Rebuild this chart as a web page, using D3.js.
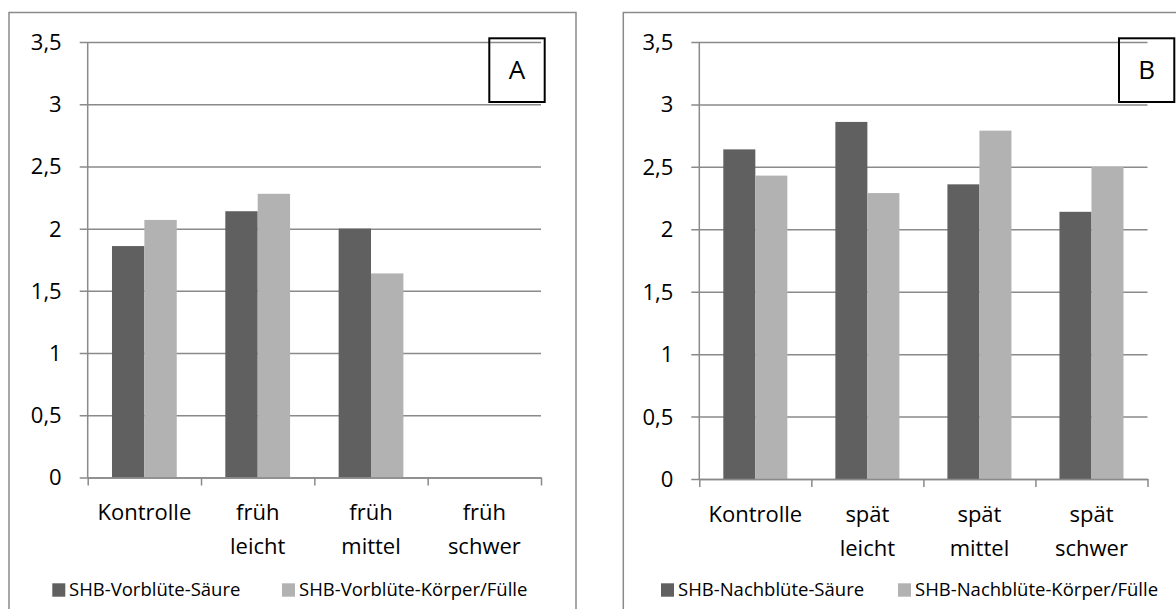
<!DOCTYPE html>
<html>
<head>
<meta charset="utf-8">
<script src="https://cdn.jsdelivr.net/npm/d3@7/dist/d3.min.js"></script>
<style>
  html, body { margin: 0; padding: 0; background: #ffffff; }
  svg { display: block; font-family: "Open Sans", "Noto Sans", sans-serif; }
</style>
</head>
<body>
<svg id="chart" width="1176" height="609"></svg>
<script>
// ---------- data ----------
const categoriesA = [["Kontrolle"], ["früh", "leicht"], ["früh", "mittel"], ["früh", "schwer"]];
const categoriesB = [["Kontrolle"], ["spät", "leicht"], ["spät", "mittel"], ["spät", "schwer"]];
const seriesNamesA = ["SHB-Vorblüte-Säure", "SHB-Vorblüte-Körper/Fülle"];
const seriesNamesB = ["SHB-Nachblüte-Säure", "SHB-Nachblüte-Körper/Fülle"];
const vorbluteSaeure = [1.86, 2.14, 2.00, null];
const vorbluteKoerper = [2.07, 2.28, 1.64, null];
const nachbluteSaeure = [2.64, 2.86, 2.36, 2.14];
const nachbluteKoerper = [2.43, 2.29, 2.79, 2.50];
const yTickValues = [0, 0.5, 1, 1.5, 2, 2.5, 3, 3.5];
const yTickLabels = ["0", "0,5", "1", "1,5", "2", "2,5", "3", "3,5"];
const panelLetters = ["A", "B"];

// ---------- styles ----------
const seriesColors = ["#606060", "#b2b2b2"];
const gridColor = "#8a8a8a";

const svg = d3.select("#chart");

const panels = [
  {
    letter: panelLetters[0], cats: categoriesA, names: seriesNamesA,
    series: [vorbluteSaeure, vorbluteKoerper],
    border: {x: 9, y: 12.5, w: 567, h: 640},
    plot: {x: 87.7, y: 42, w: 453.3, h: 435.5},
    box: {x: 489.3, y: 38.3, w: 55.4, h: 63.7},
    legend: [{sx: 52.3, tx: 69}, {sx: 282, tx: 299}]
  },
  {
    letter: panelLetters[1], cats: categoriesB, names: seriesNamesB,
    series: [nachbluteSaeure, nachbluteKoerper],
    border: {x: 623.3, y: 12.5, w: 600, h: 640},
    plot: {x: 699.3, y: 42, w: 448.2, h: 437},
    box: {x: 1119, y: 38.3, w: 55.3, h: 63.7},
    legend: [{sx: 661, tx: 678}, {sx: 898, tx: 915}]
  }
];

panels.forEach(p => {
  // outer chart border
  svg.append("rect")
    .attr("x", p.border.x).attr("y", p.border.y)
    .attr("width", p.border.w).attr("height", p.border.h)
    .attr("fill", "none").attr("stroke", gridColor).attr("stroke-width", 1.5);

  const g = svg.append("g").attr("transform", `translate(${p.plot.x},${p.plot.y})`);
  const w = p.plot.w, h = p.plot.h;

  const y = d3.scaleLinear().domain([0, 3.5]).range([h, 0]);
  const idx = d3.range(p.cats.length);
  const x0 = d3.scaleBand().domain(idx).range([0, w])
    .paddingInner(1.5 / 3.5).paddingOuter(0.75 / 3.5);
  const x1 = d3.scaleBand().domain(d3.range(p.series.length)).range([0, x0.bandwidth()]);
  const xb = d3.scaleLinear().domain([0, p.cats.length]).range([0, w]);

  // y axis with gridlines
  const yAx = g.append("g")
    .call(d3.axisLeft(y).tickValues(yTickValues)
      .tickFormat((d, i) => yTickLabels[i])
      .tickSizeInner(-w).tickSizeOuter(0).tickPadding(26));
  yAx.select(".domain").remove();
  yAx.selectAll(".tick line").attr("x1", -8).attr("stroke", gridColor).attr("stroke-width", 1.5);
  yAx.selectAll(".tick text").attr("font-size", 22).attr("fill", "#000")
    .attr("font-family", "'Open Sans', sans-serif").attr("dy", "0.34em");

  // vertical axis line
  g.append("line").attr("x1", 0).attr("x2", 0).attr("y1", 0).attr("y2", h)
    .attr("stroke", gridColor).attr("stroke-width", 1.5);

  // bars
  p.series.forEach((vals, si) => {
    g.append("g").selectAll("rect")
      .data(vals.map((v, i) => ({v, i})).filter(d => d.v !== null))
      .join("rect")
      .attr("x", d => x0(d.i) + x1(si))
      .attr("width", x1.bandwidth())
      .attr("y", d => y(d.v))
      .attr("height", d => h - y(d.v))
      .attr("fill", seriesColors[si]);
  });

  // bottom axis with boundary ticks
  const xAx = g.append("g").attr("transform", `translate(0,${h})`)
    .call(d3.axisBottom(xb).tickValues(d3.range(p.cats.length + 1))
      .tickFormat("").tickSizeInner(8).tickSizeOuter(0));
  xAx.select(".domain").attr("stroke", gridColor).attr("stroke-width", 1.5);
  xAx.selectAll(".tick line").attr("stroke", gridColor).attr("stroke-width", 1.5);

  // category labels
  const lab = g.append("g").attr("transform", `translate(0,${h})`)
    .call(d3.axisBottom(x0).tickSize(0).tickFormat(""));
  lab.select(".domain").remove();
  lab.selectAll(".tick").each(function(d) {
    const t = d3.select(this).append("text")
      .attr("text-anchor", "middle").attr("font-size", 22).attr("fill", "#000")
      .attr("font-family", "'Open Sans', sans-serif");
    p.cats[d].forEach((line, li) => {
      t.append("tspan").attr("x", 0).attr("y", 42.5 + li * 34).text(line);
    });
  });

  // panel letter box
  svg.append("rect")
    .attr("x", p.box.x).attr("y", p.box.y).attr("width", p.box.w).attr("height", p.box.h)
    .attr("fill", "none").attr("stroke", "#000").attr("stroke-width", 2);
  svg.append("text")
    .attr("x", p.box.x + p.box.w / 2).attr("y", 79.3)
    .attr("text-anchor", "middle").attr("font-size", 26).attr("fill", "#000")
    .text(p.letter);

  // legend
  p.names.forEach((name, si) => {
    svg.append("rect").attr("x", p.legend[si].sx).attr("y", 583.3)
      .attr("width", 13).attr("height", 13.4).attr("fill", seriesColors[si]);
    svg.append("text").attr("x", p.legend[si].tx).attr("y", 595.7)
      .attr("font-size", 18.5).attr("fill", "#000").text(name);
  });
});
</script>
</body>
</html>
